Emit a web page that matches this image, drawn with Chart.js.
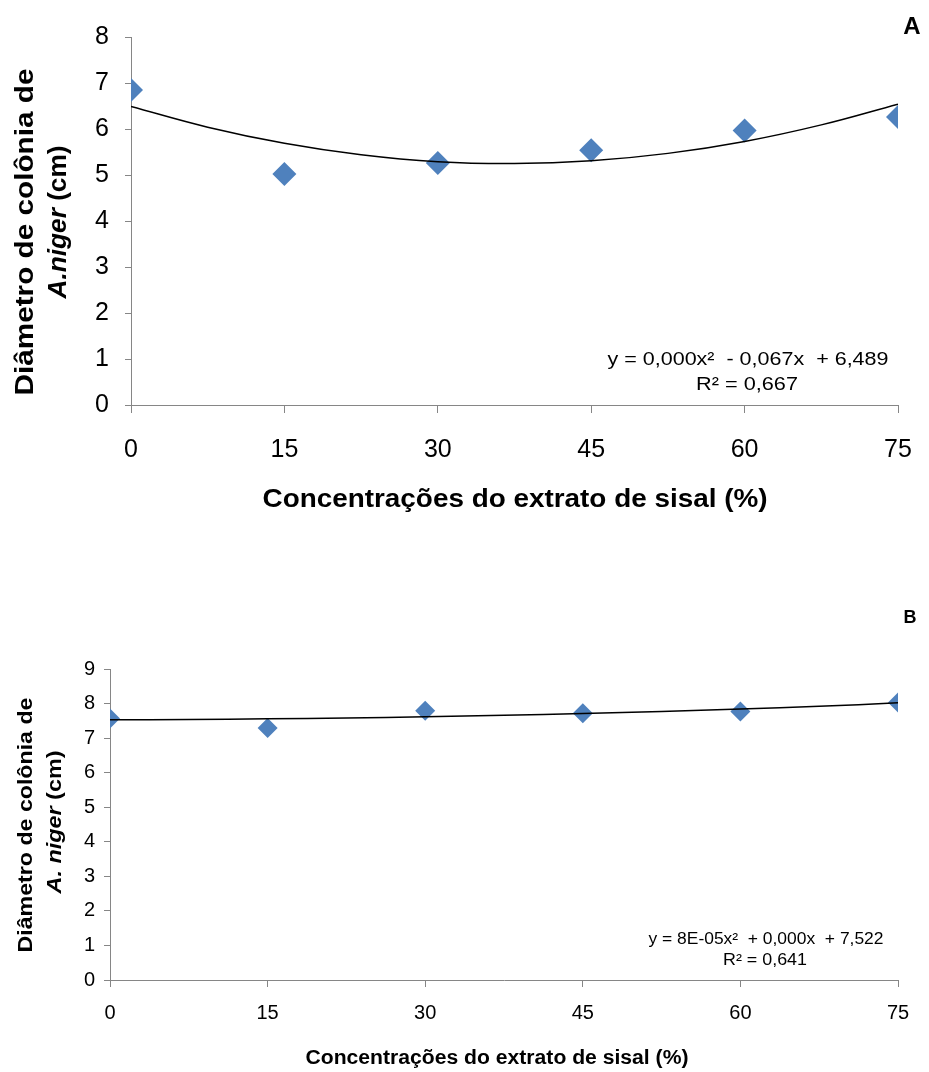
<!DOCTYPE html>
<html>
<head>
<meta charset="utf-8">
<script src="https://cdn.jsdelivr.net/npm/chart.js@4.4.1/dist/chart.umd.min.js"></script>
<style>
  body { margin: 0; background: #fff; }
  .painel { position: absolute; left: 0; }
</style>
</head>
<body>
<div class="painel" style="top:0"><canvas id="graficoA" width="929" height="530"></canvas></div>
<div class="painel" style="top:590px"><canvas id="graficoB" width="929" height="482"></canvas></div>
<script>
// dados
const concentracoes = [0, 15, 30, 45, 60, 75];
const diametroA = [6.85, 5.02, 5.26, 5.54, 5.97, 6.26];
const diametroB = [7.57, 7.29, 7.79, 7.72, 7.77, 8.03];

// linha de tendencia (polinomial)
const tendX = [0, 7.5, 15, 22.5, 30, 37.5, 45, 52.5, 60, 67.5, 75];
const tendA = [6.49, 6.04, 5.69, 5.44, 5.29, 5.25, 5.31, 5.47, 5.73, 6.09, 6.54];
const tendB = [7.53, 7.54, 7.56, 7.58, 7.62, 7.66, 7.71, 7.77, 7.84, 7.92, 8.02];

const ticksX = [0, 15, 30, 45, 60, 75];
const ticksYA = [0, 1, 2, 3, 4, 5, 6, 7, 8];
const ticksYB = [0, 1, 2, 3, 4, 5, 6, 7, 8, 9];

const fonte = "'Liberation Sans', Arial, sans-serif";
const azul = '#4F81BD';
const cinza = '#868686';

function pontos(xs, ys) {
    return xs.map((x, i) => ({ x: x, y: ys[i] }));
}

// desenha pedacos de texto (normal / italico) centrados, ajustados a uma largura
function textoAjustado(ctx, partes, cx, cy, tam, peso, largura) {
    let total = 0;
    partes.forEach(p => {
        ctx.font = (p.i ? 'italic ' : '') + peso + ' ' + tam + 'px ' + fonte;
        p.w = ctx.measureText(p.t).width;
        total += p.w;
    });
    const s = largura ? largura / total : 1;
    ctx.save();
    ctx.translate(cx, cy);
    ctx.scale(s, 1);
    ctx.textBaseline = 'middle';
    ctx.textAlign = 'left';
    let x = -total / 2;
    partes.forEach(p => {
        ctx.font = (p.i ? 'italic ' : '') + peso + ' ' + tam + 'px ' + fonte;
        ctx.fillText(p.t, x, 0);
        x += p.w;
    });
    ctx.restore();
}

const textosExtra = {
    id: 'textosExtra',
    afterDraw(chart, args, o) {
        const ctx = chart.ctx;
        ctx.save();
        ctx.fillStyle = '#000';
        // titulo do eixo y (vertical, duas linhas)
        o.tituloY.forEach(l => {
            ctx.save();
            ctx.translate(l.x, l.y);
            ctx.rotate(-Math.PI / 2);
            textoAjustado(ctx, l.partes, 0, 0, o.tamTitulo, 'bold', l.w);
            ctx.restore();
        });
        // titulo do eixo x
        textoAjustado(ctx, [{ t: 'Concentrações do extrato de sisal (%)' }], o.tituloX.x, o.tituloX.y, o.tamTitulo, 'bold', o.tituloX.w);
        // equacao
        o.equacao.forEach(l => {
            textoAjustado(ctx, [{ t: l.t }], l.x, l.y, o.tamEq, 'normal', l.w);
        });
        // letra do painel
        textoAjustado(ctx, [{ t: o.letra.t }], o.letra.x, o.letra.y, o.letra.tam, 'bold');
        ctx.restore();
    }
};

function configura(dados, tend, ticksY, maxY, c) {
    return {
        type: 'scatter',
        data: {
            datasets: [
                {
                    type: 'line',
                    data: pontos(tendX, tend),
                    borderColor: '#000',
                    borderWidth: 1.5,
                    pointRadius: 0,
                    tension: 0.4,
                    fill: false,
                    order: 0
                },
                {
                    data: pontos(concentracoes, dados),
                    pointStyle: 'rectRot',
                    pointRadius: c.raio,
                    backgroundColor: azul,
                    borderColor: azul,
                    borderWidth: 0,
                    order: 1
                }
            ]
        },
        options: {
            responsive: false,
            animation: false,
            layout: { padding: { top: c.topo, right: 31, left: 0, bottom: 0 } },
            plugins: {
                legend: { display: false },
                tooltip: { enabled: false },
                textosExtra: c.extra
            },
            scales: {
                x: {
                    type: 'linear',
                    min: 0,
                    max: 75,
                    afterBuildTicks: s => { s.ticks = ticksX.map(v => ({ value: v })); },
                    afterFit: s => { s.height = c.altX; s.paddingLeft = 0; s.paddingRight = 0; },
                    grid: { drawOnChartArea: false, tickLength: c.tickX, color: cinza },
                    border: { color: cinza },
                    ticks: { padding: c.padX, color: '#000', maxRotation: 0, autoSkip: false, font: { size: c.tamTick, family: fonte } }
                },
                y: {
                    min: 0,
                    max: maxY,
                    afterBuildTicks: s => { s.ticks = ticksY.map(v => ({ value: v })); },
                    afterFit: s => { s.width = c.largY; s.paddingTop = 0; s.paddingBottom = 0; },
                    grid: { drawOnChartArea: false, tickLength: 6, color: cinza },
                    border: { color: cinza },
                    ticks: { padding: c.padY, color: '#000', font: { size: c.tamTick, family: fonte } }
                }
            }
        },
        plugins: [textosExtra]
    };
}

new Chart(document.getElementById('graficoA'), configura(diametroA, tendA, ticksYA, 8, {
    raio: 12, topo: 37, altX: 125, largY: 131, tickX: 8, padX: 22, padY: 16, tamTick: 25,
    extra: {
        tamTitulo: 26,
        tamEq: 19,
        tituloY: [
            { x: 26, y: 232, w: 327, partes: [{ t: 'Diâmetro de colônia de' }] },
            { x: 59, y: 222, w: 153, partes: [{ t: 'A.niger', i: true }, { t: ' (cm)' }] }
        ],
        tituloX: { x: 515, y: 500, w: 505 },
        equacao: [
            { t: 'y = 0,000x²  - 0,067x  + 6,489', x: 748, y: 360, w: 281 },
            { t: 'R² = 0,667', x: 747, y: 385, w: 102 }
        ],
        letra: { t: 'A', x: 912, y: 27, tam: 24 }
    }
}));

new Chart(document.getElementById('graficoB'), configura(diametroB, tendB, ticksYB, 9, {
    raio: 10, topo: 79, altX: 92, largY: 110, tickX: 7, padX: 14, padY: 9, tamTick: 20,
    extra: {
        tamTitulo: 20,
        tamEq: 16,
        tituloY: [
            { x: 26, y: 235, w: 255, partes: [{ t: 'Diâmetro de colônia de' }] },
            { x: 55, y: 232, w: 143, partes: [{ t: 'A. niger', i: true }, { t: ' (cm)' }] }
        ],
        tituloX: { x: 497, y: 468, w: 383 },
        equacao: [
            { t: 'y = 8E-05x²  + 0,000x  + 7,522', x: 766, y: 350, w: 235 },
            { t: 'R² = 0,641', x: 765, y: 371, w: 84 }
        ],
        letra: { t: 'B', x: 910, y: 28, tam: 18 }
    }
}));
</script>
</body>
</html>
